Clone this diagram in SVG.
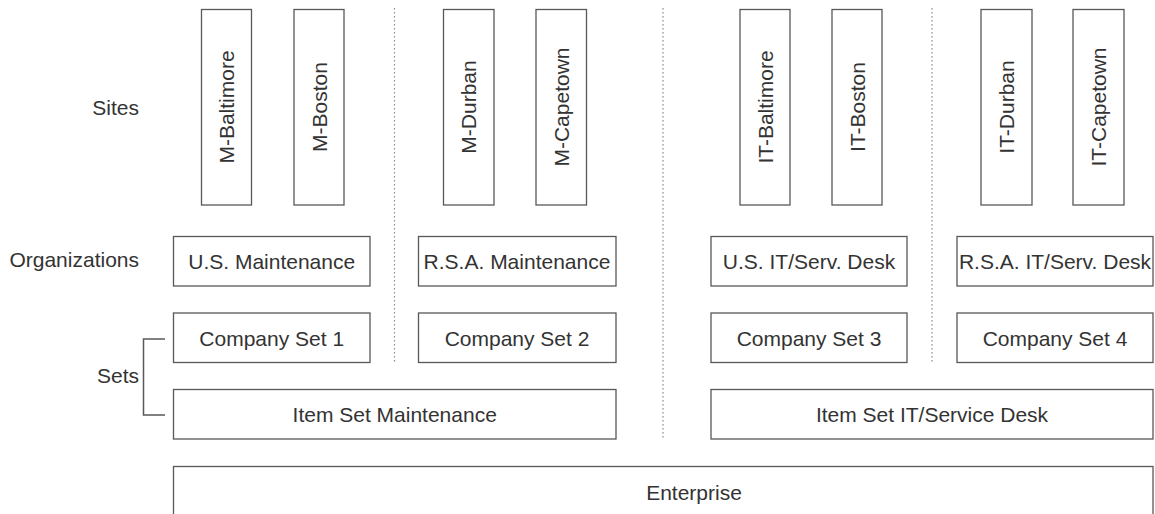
<svg xmlns="http://www.w3.org/2000/svg" width="1155" height="514" viewBox="0 0 1155 514">
<style>
  .box { fill: #ffffff; stroke: #585858; stroke-width: 1.3; }
  .lbl { font-family: "Liberation Sans", Arial, sans-serif; font-size: 21px; fill: #333333; text-anchor: middle; }
  .side { font-family: "Liberation Sans", Arial, sans-serif; font-size: 21px; fill: #333333; text-anchor: end; }
  .dot { stroke: #8a8a8a; stroke-width: 1.2; stroke-dasharray: 1.5 2.5; fill: none; }
  .br { stroke: #585858; stroke-width: 1.5; fill: none; }
</style>
<rect width="1155" height="514" fill="#ffffff"/>

<g id="row-labels">
  <text class="side" x="139" y="115">Sites</text>
  <text class="side" x="139" y="267">Organizations</text>
  <text class="side" x="139" y="382.5">Sets</text>
</g>

<g id="connectors">
  <line class="dot" x1="394.5" y1="8" x2="394.5" y2="364"/>
  <line class="dot" x1="663" y1="8" x2="663" y2="440"/>
  <line class="dot" x1="932" y1="8" x2="932" y2="364"/>
  <polyline class="br" points="165,339 143.5,339 143.5,415 165,415"/>
</g>

<g id="site-m-baltimore">
  <rect class="box" x="201.5" y="9.5" width="50" height="195.5"/>
  <text class="lbl" transform="translate(226.5,107) rotate(-90)" x="0" y="7.5">M-Baltimore</text>
</g>
<g id="site-m-boston">
  <rect class="box" x="294" y="9.5" width="50" height="195.5"/>
  <text class="lbl" transform="translate(319,107) rotate(-90)" x="0" y="7.5">M-Boston</text>
</g>
<g id="site-m-durban">
  <rect class="box" x="443.5" y="9.5" width="50.5" height="195.5"/>
  <text class="lbl" transform="translate(468.7,107) rotate(-90)" x="0" y="7.5">M-Durban</text>
</g>
<g id="site-m-capetown">
  <rect class="box" x="536" y="9.5" width="50.5" height="195.5"/>
  <text class="lbl" transform="translate(561.2,107) rotate(-90)" x="0" y="7.5">M-Capetown</text>
</g>
<g id="site-it-baltimore">
  <rect class="box" x="740" y="9.5" width="50" height="195.5"/>
  <text class="lbl" transform="translate(765,107) rotate(-90)" x="0" y="7.5">IT-Baltimore</text>
</g>
<g id="site-it-boston">
  <rect class="box" x="832" y="9.5" width="50" height="195.5"/>
  <text class="lbl" transform="translate(857,107) rotate(-90)" x="0" y="7.5">IT-Boston</text>
</g>
<g id="site-it-durban">
  <rect class="box" x="981" y="9.5" width="51" height="195.5"/>
  <text class="lbl" transform="translate(1006.5,107) rotate(-90)" x="0" y="7.5">IT-Durban</text>
</g>
<g id="site-it-capetown">
  <rect class="box" x="1073" y="9.5" width="51" height="195.5"/>
  <text class="lbl" transform="translate(1098.5,107) rotate(-90)" x="0" y="7.5">IT-Capetown</text>
</g>

<g id="org-us-maintenance">
  <rect class="box" x="173.5" y="236.5" width="196.5" height="49.5"/>
  <text class="lbl" x="271.7" y="268.8">U.S. Maintenance</text>
</g>
<g id="org-rsa-maintenance">
  <rect class="box" x="418.5" y="236.5" width="197.5" height="49.5"/>
  <text class="lbl" x="517" y="268.8">R.S.A. Maintenance</text>
</g>
<g id="org-us-it">
  <rect class="box" x="711" y="236.5" width="196" height="49.5"/>
  <text class="lbl" x="809" y="268.8">U.S. IT/Serv. Desk</text>
</g>
<g id="org-rsa-it">
  <rect class="box" x="957" y="236.5" width="196" height="49.5"/>
  <text class="lbl" x="1055" y="268.8">R.S.A. IT/Serv. Desk</text>
</g>

<g id="company-set-1">
  <rect class="box" x="173.5" y="313" width="196.5" height="49.5"/>
  <text class="lbl" x="271.7" y="345.5">Company Set 1</text>
</g>
<g id="company-set-2">
  <rect class="box" x="418.5" y="313" width="197.5" height="49.5"/>
  <text class="lbl" x="517" y="345.5">Company Set 2</text>
</g>
<g id="company-set-3">
  <rect class="box" x="711" y="313" width="196" height="49.5"/>
  <text class="lbl" x="809" y="345.5">Company Set 3</text>
</g>
<g id="company-set-4">
  <rect class="box" x="957" y="313" width="196" height="49.5"/>
  <text class="lbl" x="1055" y="345.5">Company Set 4</text>
</g>

<g id="item-set-maintenance">
  <rect class="box" x="173.5" y="389.5" width="442.5" height="49.5"/>
  <text class="lbl" x="394.7" y="422">Item Set Maintenance</text>
</g>
<g id="item-set-it">
  <rect class="box" x="711" y="389.5" width="442" height="49.5"/>
  <text class="lbl" x="932" y="422">Item Set IT/Service Desk</text>
</g>

<g id="enterprise">
  <rect class="box" x="173.5" y="466.5" width="979.5" height="60"/>
  <text class="lbl" x="694" y="500">Enterprise</text>
</g>
</svg>
